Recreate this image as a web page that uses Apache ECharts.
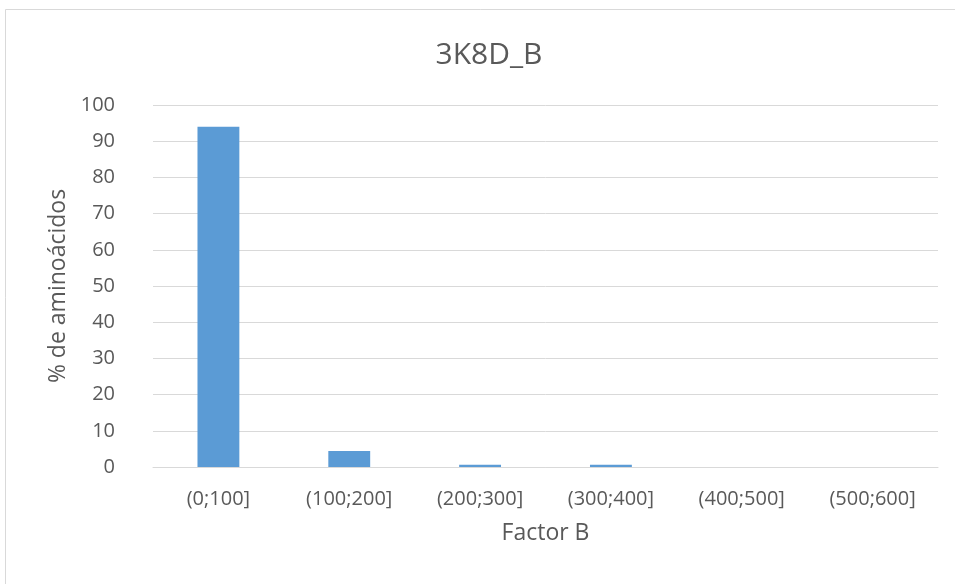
<!DOCTYPE html>
<html><head><meta charset="utf-8">
<script src="https://cdn.jsdelivr.net/npm/echarts@6/dist/echarts.min.js"></script>
<style>html,body{margin:0;padding:0;background:#fff}#c{width:955px;height:584px}</style>
</head><body><div id="c"></div>
<script>
const categories = ['(0;100]', '(100;200]', '(200;300]', '(300;400]', '(400;500]', '(500;600]'];
const values = [94.0, 4.4, 0.6, 0.6, 0, 0];
const yTicks = [0, 100, 10];

const chart = echarts.init(document.getElementById('c'));
chart.setOption({
  animation: false,
  backgroundColor: '#fff',
  graphic: [{
    type: 'rect', shape: {x: 5.5, y: 9.5, width: 1000, height: 1000},
    style: {fill: 'none', stroke: '#d9d9d9', lineWidth: 1}, silent: true
  }],
  title: {
    text: '3K8D_B', left: 484, textAlign: 'center', top: 35,
    textStyle: {fontFamily: 'Open Sans', fontSize: 30, fontWeight: 'normal', color: '#595959'}
  },
  grid: {left: 153, right: 17, top: 105, bottom: 117},
  xAxis: {
    type: 'category', data: categories,
    name: 'Factor B', nameLocation: 'middle', nameGap: 66,
    nameTextStyle: {fontFamily: 'Open Sans', fontSize: 23, color: '#595959', verticalAlign: 'middle'},
    axisLine: {lineStyle: {color: '#d9d9d9'}},
    axisTick: {show: false},
    axisLabel: {fontFamily: 'Open Sans', fontSize: 20, color: '#595959', margin: 22}
  },
  yAxis: {
    type: 'value', min: yTicks[0], max: yTicks[1], interval: yTicks[2],
    name: '% de aminoácidos', nameLocation: 'middle', nameGap: 82,
    nameTextStyle: {fontFamily: 'Open Sans', fontSize: 23, color: '#595959'},
    axisLine: {show: false}, axisTick: {show: false},
    axisLabel: {fontFamily: 'Open Sans', fontSize: 20, color: '#595959', margin: 38},
    splitLine: {lineStyle: {color: '#d9d9d9'}}
  },
  series: [{
    type: 'bar', data: values, barWidth: '32%',
    itemStyle: {color: '#5b9bd5'}
  }]
});
</script></body></html>
